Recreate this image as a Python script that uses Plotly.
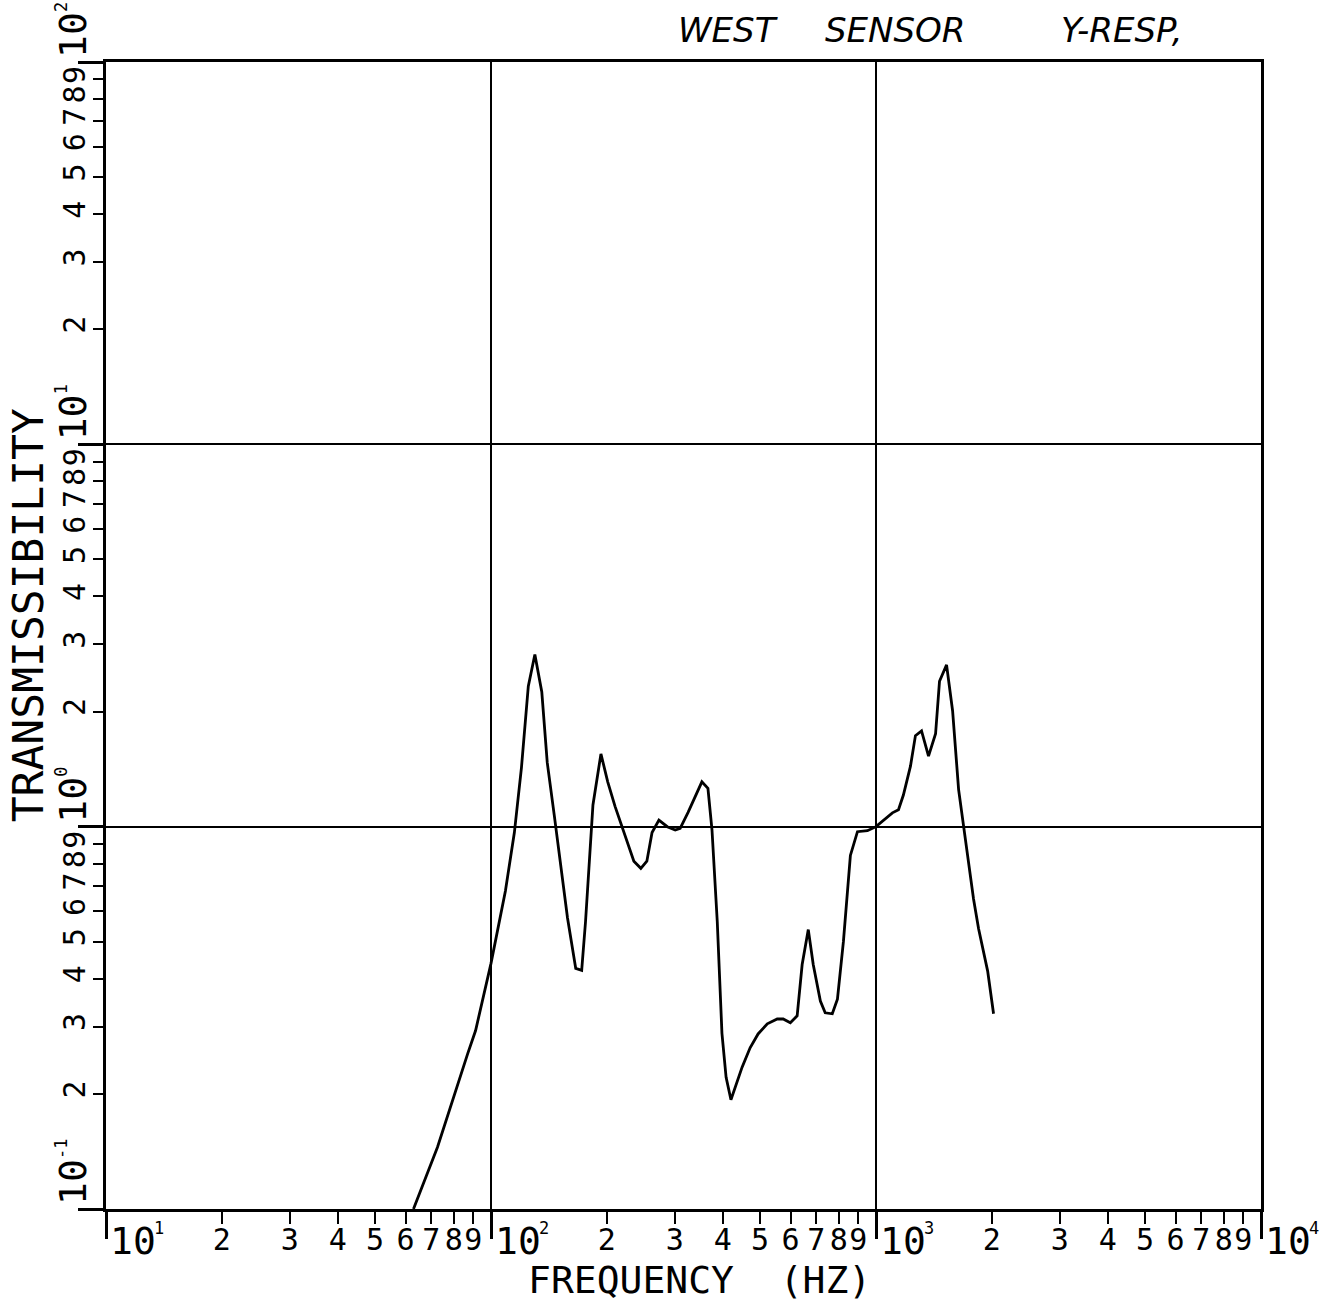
import plotly.graph_objects as go

# Measured transmissibility of the west sensor, Y response
freq_hz = [62.9, 72.6, 87.0, 91.2, 100, 109, 115, 120, 125, 130,
           135.5, 140, 146, 158, 166, 172, 176, 184, 193, 201,
           210, 221, 235, 245, 254, 262, 273, 287, 301, 310,
           325, 353, 366, 375, 387, 398, 408, 420, 449, 471,
           494, 522, 554, 574, 599, 624, 643, 667, 687, 717,
           738, 770, 794, 823, 858, 895, 950, 1000, 1045, 1103,
           1144, 1178, 1229, 1266, 1313, 1369, 1428, 1462, 1525, 1581,
           1639, 1688, 1792, 1847, 1950, 2020]
transmissibility = [0.100, 0.145, 0.255, 0.293, 0.439, 0.679, 0.965, 1.43, 2.33, 2.82,
                    2.25, 1.47, 1.07, 0.578, 0.426, 0.421, 0.564, 1.14, 1.55, 1.31,
                    1.13, 0.976, 0.812, 0.778, 0.812, 0.965, 1.04, 1.00, 0.98, 0.99,
                    1.09, 1.31, 1.26, 0.98, 0.564, 0.288, 0.221, 0.193, 0.235, 0.264,
                    0.287, 0.305, 0.314, 0.314, 0.307, 0.320, 0.436, 0.538, 0.436, 0.350,
                    0.326, 0.324, 0.354, 0.501, 0.841, 0.970, 0.976, 1.00, 1.036, 1.087,
                    1.107, 1.21, 1.44, 1.73, 1.78, 1.53, 1.75, 2.40, 2.65, 2.01,
                    1.25, 1.006, 0.647, 0.541, 0.419, 0.324]

# Axis decades (exponents) and the digit ticks inside each decade
x_decades = [1, 2, 3, 4]
y_decades = [-1, 0, 1, 2]
digits = [2, 3, 4, 5, 6, 7, 8, 9]

x_minor_vals = [d * 10 ** e for e in x_decades[:-1] for d in digits]
x_minor_text = [str(d) for e in x_decades[:-1] for d in digits]
y_minor_vals = [d * 10 ** e for e in y_decades[:-1] for d in digits]
y_minor_text = [str(d) for e in y_decades[:-1] for d in digits]

MONO = "DejaVu Sans Mono"
INK = "black"

fig = go.Figure()
fig.add_trace(go.Scatter(
    x=freq_hz, y=transmissibility, mode="lines",
    line=dict(color=INK, width=2.8), hoverinfo="x+y",
))

axis_common = dict(
    type="log",
    showline=True, linecolor=INK, linewidth=2.5, mirror=True,
    tickmode="array", ticks="outside", tickwidth=2, tickcolor=INK,
    tickfont=dict(family=MONO, size=30, color=INK),
    showgrid=False, zeroline=False,
)

fig.update_xaxes(
    **axis_common,
    range=[1, 4],
    tickvals=x_minor_vals, ticktext=x_minor_text, ticklen=12, tickangle=0,
    ticklabelstandoff=-10,
    minor=dict(tickmode="array", tickvals=[10 ** e for e in x_decades],
               ticks="outside", ticklen=27, tickwidth=2.5, tickcolor=INK,
               showgrid=True, gridcolor=INK, gridwidth=2),
)
fig.update_yaxes(
    **axis_common,
    range=[-1, 2],
    tickvals=y_minor_vals, ticktext=y_minor_text, ticklen=10,
    tickangle=-90, ticklabelstandoff=-4,
    minor=dict(tickmode="array", tickvals=[10 ** e for e in y_decades],
               ticks="outside", ticklen=25, tickwidth=2.5, tickcolor=INK,
               showgrid=True, gridcolor=INK, gridwidth=2),
)

annotations = []

# Decade labels on the frequency axis: "10" with a small exponent
for e in x_decades:
    annotations.append(dict(
        x=e, xref="x", y=0, yref="paper", text="10",
        xanchor="left", yanchor="top", xshift=2, yshift=-8,
        showarrow=False, font=dict(family=MONO, size=38, color=INK),
    ))
    annotations.append(dict(
        x=e, xref="x", y=0, yref="paper", text=str(e),
        xanchor="left", yanchor="top", xshift=46, yshift=-7,
        showarrow=False, font=dict(family=MONO, size=17, color=INK),
    ))

# Decade labels on the transmissibility axis, rotated
for e in y_decades:
    annotations.append(dict(
        x=0, xref="paper", y=e, yref="y", text="10", textangle=-90,
        xanchor="right", yanchor="bottom", xshift=-9, yshift=2,
        showarrow=False, font=dict(family=MONO, size=38, color=INK),
    ))
    annotations.append(dict(
        x=0, xref="paper", y=e, yref="y", text=str(e), textangle=-90,
        xanchor="right", yanchor="bottom", xshift=-33, yshift=48,
        showarrow=False, font=dict(family=MONO, size=17, color=INK),
    ))

# Axis titles
annotations.append(dict(
    x=0.514, xref="paper", y=-0.062, yref="paper", text="FREQUENCY  (HZ)",
    xanchor="center", yanchor="middle", showarrow=False,
    font=dict(family=MONO, size=38, color=INK),
))
annotations.append(dict(
    x=-0.068, xref="paper", y=0.518, yref="paper", text="TRANSMISSIBILITY",
    textangle=-90, xanchor="center", yanchor="middle", showarrow=False,
    font=dict(family=MONO, size=43, color=INK),
))

# Handwritten caption across the top
for word, px in [("WEST", 728), ("SENSOR", 895), ("Y-RESP,", 1122)]:
    annotations.append(dict(
        x=(px - 106) / 1155, xref="paper", y=1.028, yref="paper",
        text=f"<i>{word}</i>", xanchor="center", yanchor="middle",
        showarrow=False, font=dict(family="DejaVu Sans", size=34, color=INK),
    ))

fig.update_layout(
    width=1328, height=1306,
    margin=dict(l=106, r=67, t=62, b=97),
    paper_bgcolor="white", plot_bgcolor="white",
    showlegend=False, annotations=annotations,
)

fig.write_html("out.html")
